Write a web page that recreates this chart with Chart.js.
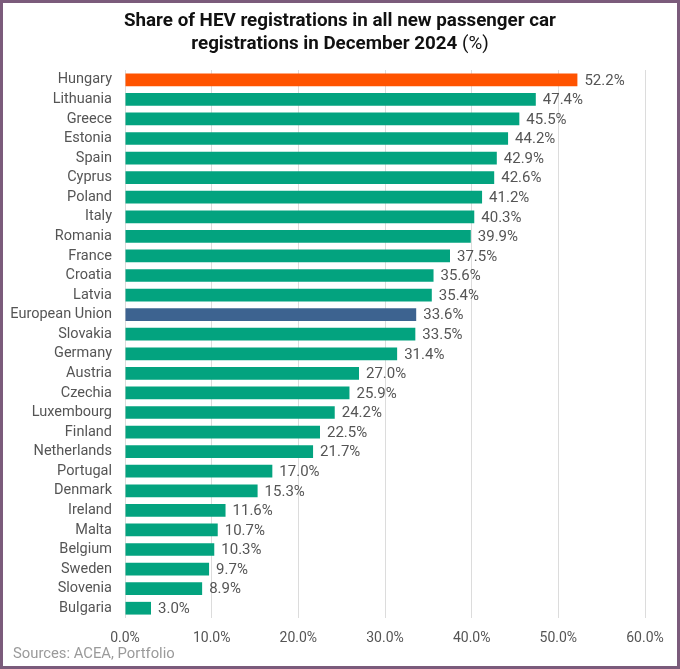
<!DOCTYPE html>
<html>
<head>
<meta charset="utf-8">
<script src="https://cdn.jsdelivr.net/npm/chart.js@4/dist/chart.umd.min.js"></script>
<style>
  html, body { margin: 0; padding: 0; background: #fff; }
  #wrap { position: relative; width: 680px; height: 669px; overflow: hidden; }
  #graphique { position: absolute; left: 0; top: 0; }
  #cadre { position: absolute; left: 0; top: 0; width: 680px; height: 669px; box-sizing: border-box; border: 3px solid #7b5b7b; pointer-events: none; }
  #titre { position: absolute; left: 0; top: 9px; width: 680px; text-align: center; font-family: Roboto, sans-serif; font-size: 18.8px; line-height: 23px; color: #111; font-weight: bold; }
  #titre span { font-weight: normal; }
  #source { position: absolute; left: 13px; top: 644px; font-family: Roboto, sans-serif; font-size: 14.8px; color: #9a9a9a; }
</style>
</head>
<body>
<div id="wrap">
  <canvas id="graphique" width="680" height="669"></canvas>
  <div id="titre">Share of HEV registrations in all new passenger car<br>registrations in December 2024 <span>(%)</span></div>
  <div id="source">Sources: ACEA, Portfolio</div>
  <div id="cadre"></div>
</div>
<script>
// donnees du graphique
const pays = ["Hungary", "Lithuania", "Greece", "Estonia", "Spain", "Cyprus", "Poland", "Italy",
    "Romania", "France", "Croatia", "Latvia", "European Union", "Slovakia", "Germany", "Austria",
    "Czechia", "Luxembourg", "Finland", "Netherlands", "Portugal", "Denmark", "Ireland", "Malta",
    "Belgium", "Sweden", "Slovenia", "Bulgaria"];
const partHEV = [52.2, 47.4, 45.5, 44.2, 42.9, 42.6, 41.2, 40.3, 39.9, 37.5, 35.6, 35.4, 33.6, 33.5,
    31.4, 27.0, 25.9, 24.2, 22.5, 21.7, 17.0, 15.3, 11.6, 10.7, 10.3, 9.7, 8.9, 3.0];
const ticksX = [0, 10, 20, 30, 40, 50, 60];

function couleur(nom) {
    if (nom === "Hungary") return "#ff5300";
    if (nom === "European Union") return "#3d6390";
    return "#03a37f";
}

// plugin pour les etiquettes au bout des barres
const etiquettes = {
    id: "etiquettes",
    afterDatasetsDraw(chart) {
        const ctx = chart.ctx;
        const meta = chart.getDatasetMeta(0);
        ctx.save();
        ctx.font = "15px Roboto";
        ctx.fillStyle = "#555";
        ctx.textAlign = "left";
        ctx.textBaseline = "middle";
        meta.data.forEach((bar, i) => {
            ctx.fillText(partHEV[i].toFixed(1) + "%", bar.x + 7, bar.y + 1);
        });
        ctx.restore();
    }
};

window.graphique = new Chart(document.getElementById("graphique"), {
    type: "bar",
    data: {
        labels: pays,
        datasets: [{
            data: partHEV,
            backgroundColor: pays.map(couleur),
            barPercentage: 0.65,
            categoryPercentage: 1.0
        }]
    },
    options: {
        indexAxis: "y",
        responsive: false,
        animation: false,
        layout: { padding: { top: 70, right: 35, bottom: 21, left: 0 } },
        plugins: { legend: { display: false }, tooltip: { enabled: false } },
        scales: {
            x: {
                min: 0,
                max: 60,
                afterBuildTicks: (s) => { s.ticks = ticksX.map(v => ({ value: v })); },
                afterFit: (s) => { s.height = 30; },
                grid: { color: "#dcdcdc", lineWidth: 1, drawTicks: false },
                border: { display: false },
                ticks: {
                    padding: 12,
                    color: "#555",
                    font: { family: "Roboto", size: 14 },
                    callback: (v) => v.toFixed(1) + "%"
                }
            },
            y: {
                afterFit: (s) => { s.width = 125; },
                grid: { display: false, drawTicks: false },
                border: { display: false },
                ticks: {
                    padding: 13,
                    color: "#555",
                    font: { family: "Roboto", size: 14.5 },
                    autoSkip: false
                }
            }
        }
    },
    plugins: [etiquettes]
});
</script>
</body>
</html>
